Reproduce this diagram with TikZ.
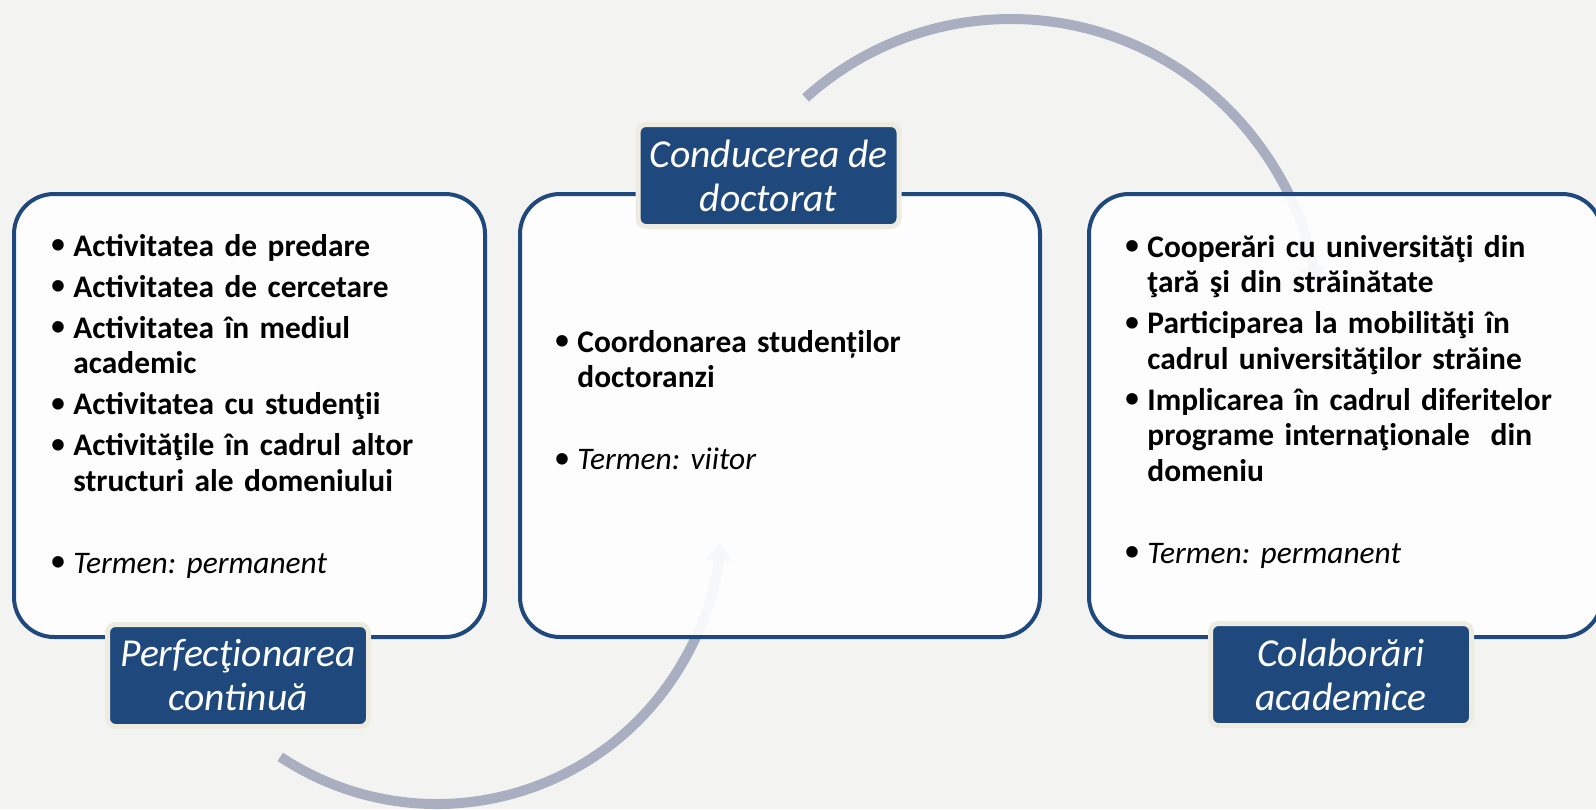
\documentclass[tikz,border=0pt]{standalone}
\usepackage{fontspec}
\setmainfont{Carlito}
\newfontfamily\bulletfont{Liberation Sans}
\usetikzlibrary{arrows.meta}
\definecolor{bgcolor}{HTML}{F3F3F1}
\definecolor{navy}{HTML}{1F497D}
\definecolor{tan}{HTML}{EEECE1}
\definecolor{arccolor}{HTML}{A9AFC0}
% one bullet paragraph with hanging indent
\newcommand\bulletline[1]{\par\hangindent=11pt\hangafter=1\noindent\makebox[11pt][l]{\bulletfont\fontsize{20}{20}\selectfont\raisebox{-1.2pt}{\textbullet}}#1\par}
\tikzset{
  panel/.style={draw=navy, line width=2pt, fill=white, fill opacity=0.9, rounded corners=20pt, minimum height=221.5pt},
  title/.style={draw=tan, line width=2.5pt, fill=navy, rounded corners=4pt, minimum width=130.5pt, minimum height=51pt, inner sep=0pt, text=white, align=center, font=\fontsize{19.8}{22}\selectfont\itshape},
  items/.style={anchor=north west, inner sep=0pt, text width=250pt, align=left, font=\fontsize{15.7}{17.75}\selectfont\bfseries\frenchspacing},
  flow/.style={draw=arccolor, line width=5pt, -{Triangle[width=13pt,length=9pt]}}
}
\begin{document}
\begin{tikzpicture}[x=0.5pt, y=-0.5pt]
        % background and page size
        \fill[bgcolor] (0,0) rectangle (1596,809);
        \useasboundingbox (0,0) rectangle (1596,809);
        % centres of the two curved arrows
        \coordinate (lowhub)  at (437,520);
        \coordinate (highhub) at (1011,326);
        % drawing the curved arrows behind the panels
        \draw[flow] ([shift={(123.5:284)}]lowhub) arc[start angle=123.5, end angle=4.6, radius=284];
        \draw[flow] ([shift={(-132:307)}]highhub) arc[start angle=-132, end angle=-7.6, radius=307];
        % the three panels
        \node[panel, minimum width=235.5pt] (perfbox)  at (249.5,415.5) {};
        \node[panel, minimum width=260pt]   (condbox)  at (780,415.5) {};
        \node[panel, minimum width=256.5pt] (colabbox) at (1345.5,415.5) {};
        % texts inside the panels
        \node[items] (perftext) at (51,215) {%
          \setlength{\baselineskip}{17.75pt}\setlength{\parskip}{2.75pt}%
          \bulletline{Activitatea de predare}
          \bulletline{Activitatea de cercetare}
          \bulletline{Activitatea în mediul\newline academic}
          \bulletline{Activitatea cu studenţii}
          \bulletline{Activităţile în cadrul altor\newline structuri ale domeniului}
          \vspace{20.5pt}
          \bulletline{\mdseries\itshape Termen: permanent}};
        \node[items] (condtext) at (555,311) {%
          \setlength{\baselineskip}{17.75pt}\setlength{\parskip}{2.75pt}%
          \bulletline{Coordonarea studenților\newline doctoranzi}
          \vspace{20.5pt}
          \bulletline{\mdseries\itshape Termen: viitor}};
        \node[items] (colabtext) at (1125,216) {%
          \setlength{\baselineskip}{17.75pt}\setlength{\parskip}{2.75pt}%
          \bulletline{Cooperări cu universităţi din\newline ţară şi din străinătate}
          \bulletline{Participarea la mobilităţi în\newline cadrul universităţilor străine}
          \bulletline{Implicarea în cadrul diferitelor\newline programe internaţionale\ \ din\newline domeniu}
          \vspace{20.5pt}
          \bulletline{\mdseries\itshape Termen: permanent}};
        % the title tabs
        \node[title] (perftitle)  at (238,675.5)  {Perfecţionarea\\continuă};
        \node[title] (condtitle)  at (768.5,175.5) {Conducerea de\\doctorat};
        \node[title] (colabtitle) at (1341,674.5)  {Colaborări\\academice};
\end{tikzpicture}
\end{document}
